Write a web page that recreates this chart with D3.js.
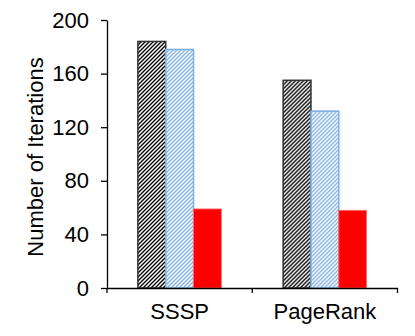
<!DOCTYPE html>
<html>
<head>
<meta charset="utf-8">
<script src="https://cdn.jsdelivr.net/npm/d3@7"></script>
<style>
    body { margin: 0; background: #fff; }
    text { font-family: "Liberation Sans", Arial, sans-serif; }
</style>
</head>
<body>
<div id="chart"></div>
<script>
// data dari gambar
var categories = ["SSSP", "PageRank"];
var seriesNames = ["baseline", "variant", "ours"];
var baselineValues = [184, 155];
var variantValues = [178, 132];
var oursValues = [59, 58];
var yTicks = [0, 40, 80, 120, 160, 200];

var data = [];
categories.forEach(function (c, i) {
    data.push({
        category: c,
        values: [
            { key: "baseline", value: baselineValues[i] },
            { key: "variant", value: variantValues[i] },
            { key: "ours", value: oursValues[i] }
        ]
    });
});

var width = 415, height = 336;
var margin = { top: 20, right: 17.5, bottom: 48, left: 107 };

var svg = d3.select("#chart").append("svg")
    .attr("width", width)
    .attr("height", height);

// pola arsiran
var defs = svg.append("defs");
function hatch(id, color) {
    var p = defs.append("pattern")
        .attr("id", id)
        .attr("patternUnits", "userSpaceOnUse")
        .attr("width", 4)
        .attr("height", 4);
    p.append("rect").attr("width", 4).attr("height", 4).attr("fill", "#fff");
    p.append("path")
        .attr("d", "M-1,1 l2,-2 M0,4 l4,-4 M3,5 l2,-2")
        .attr("stroke", color)
        .attr("stroke-width", 1.35);
}
hatch("hatchBlack", "#000");
hatch("hatchBlue", "#7fb0e3");

var fills = { baseline: "url(#hatchBlack)", variant: "url(#hatchBlue)", ours: "#ff0000" };
var strokes = { baseline: "#333", variant: "#7aaee0", ours: "#ff7070" };

var x0 = d3.scaleBand()
    .domain(categories)
    .range([margin.left, width - margin.right])
    .paddingInner(0);
var x1 = d3.scaleBand()
    .domain(seriesNames)
    .range([0, x0.bandwidth()])
    .paddingInner(0)
    .paddingOuter(1.11);
var y = d3.scaleLinear()
    .domain([0, 200])
    .range([height - margin.bottom, margin.top]);

// batang
var groups = svg.selectAll(".group")
    .data(data)
    .enter().append("g")
    .attr("class", "group")
    .attr("transform", function (d) { return "translate(" + x0(d.category) + ",0)"; });

groups.selectAll("rect")
    .data(function (d) { return d.values; })
    .enter().append("rect")
    .attr("x", function (d) { return x1(d.key); })
    .attr("y", function (d) { return y(d.value); })
    .attr("width", x1.bandwidth())
    .attr("height", function (d) { return y(0) - y(d.value); })
    .attr("fill", function (d) { return fills[d.key]; })
    .attr("stroke", function (d) { return strokes[d.key]; })
    .attr("stroke-width", function (d) { return d.key === "ours" ? 0.8 : 1.5; });

// sumbu y
var yAxis = svg.append("g")
    .attr("transform", "translate(" + margin.left + ",0)")
    .call(d3.axisLeft(y).tickValues(yTicks).tickSize(6).tickSizeOuter(0).tickPadding(12));
yAxis.select(".domain").attr("stroke", "#000").attr("stroke-width", 1.3);
yAxis.selectAll(".tick line").attr("stroke", "#000").attr("stroke-width", 1.3);
yAxis.selectAll(".tick text")
    .attr("fill", "#000")
    .style("font-size", "22px")
    .style("font-family", "'Liberation Sans', Arial, sans-serif");

// sumbu x
var xAxis = svg.append("g")
    .attr("transform", "translate(0," + y(0) + ")")
    .call(d3.axisBottom(x0).tickSize(0).tickPadding(15.4).tickSizeOuter(0));
xAxis.select(".domain").attr("stroke", "#000").attr("stroke-width", 1.3);
xAxis.selectAll(".tick text")
    .attr("fill", "#000")
    .style("font-size", "22px")
    .style("font-family", "'Liberation Sans', Arial, sans-serif");

// garis pemisah kategori
var bounds = [x0(categories[0])];
categories.forEach(function (c) { bounds.push(x0(c) + x0.bandwidth()); });
xAxis.selectAll(".sep")
    .data(bounds)
    .enter().append("line")
    .attr("class", "sep")
    .attr("x1", function (d) { return d; })
    .attr("x2", function (d) { return d; })
    .attr("y1", 0)
    .attr("y2", 5)
    .attr("stroke", "#000")
    .attr("stroke-width", 1.3);

// judul sumbu y
svg.append("text")
    .attr("transform", "rotate(-90)")
    .attr("x", -157)
    .attr("y", 42.5)
    .attr("text-anchor", "middle")
    .style("font-size", "22px")
    .attr("fill", "#000")
    .text("Number of Iterations");
</script>
</body>
</html>
